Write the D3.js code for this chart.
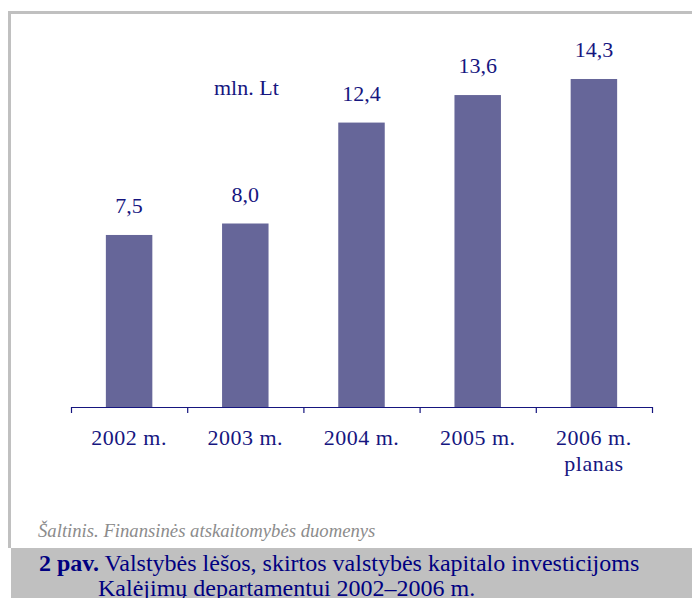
<!DOCTYPE html>
<html>
<head>
<meta charset="UTF-8">
<title>Valstybės lėšos kapitalo investicijoms</title>
<script src="https://d3js.org/d3.v7.min.js"></script>
<style>
    body {
        margin: 0;
        background: #ffffff;
        overflow: hidden;
    }
    svg {
        display: block;
    }
</style>
</head>
<body>
<svg width="692" height="598"></svg>
<script>
    // data
    const years = ["2002 m.", "2003 m.", "2004 m.", "2005 m.", "2006 m."];
    const subLabels = ["", "", "", "", "planas"];
    const values = [7.5, 8.0, 12.4, 13.6, 14.3];
    const valueLabels = ["7,5", "8,0", "12,4", "13,6", "14,3"];
    const unitLabel = "mln. Lt";
    const sourceText = "Šaltinis. Finansinės atskaitomybės duomenys";
    const captionBold = "2 pav.";
    const captionLine1 = " Valstybės lėšos, skirtos valstybės kapitalo investicijoms";
    const captionLine2 = "Kalėjimų departamentui 2002–2006 m.";

    const serif = "'Liberation Serif', 'Times New Roman', serif";
    const navy = "#16167f";
    const barColor = "#666699";
    const frameColor = "#c0c0c0";

    const svg = d3.select("svg");

    // frame around the figure
    svg.append("rect")
        .attr("x", 8).attr("y", 11)
        .attr("width", 700).attr("height", 3)
        .attr("fill", frameColor);
    svg.append("rect")
        .attr("x", 8).attr("y", 11)
        .attr("width", 3).attr("height", 537)
        .attr("fill", frameColor);

    // caption band
    svg.append("rect")
        .attr("x", 11).attr("y", 548)
        .attr("width", 681).attr("height", 50)
        .attr("fill", frameColor);

    const x0 = 71, x1 = 652, baseY = 407;

    const x = d3.scaleBand()
        .domain(years)
        .range([x0, x1])
        .paddingInner(0.6)
        .paddingOuter(0.3);

    const y = d3.scaleLinear()
        .domain([0, 16])
        .range([baseY, 40]);

    // bars
    svg.append("g")
        .selectAll("rect")
        .data(years)
        .join("rect")
        .attr("x", d => x(d))
        .attr("y", (d, i) => y(values[i]))
        .attr("width", x.bandwidth())
        .attr("height", (d, i) => baseY - y(values[i]))
        .attr("fill", barColor);

    // value labels
    svg.append("g")
        .selectAll("text")
        .data(years)
        .join("text")
        .attr("x", d => x(d) + x.bandwidth() / 2)
        .attr("y", (d, i) => y(values[i]) - 22)
        .attr("text-anchor", "middle")
        .style("font-family", serif)
        .style("font-size", "22px")
        .attr("fill", navy)
        .text((d, i) => valueLabels[i]);

    // axis with ticks on the category boundaries
    const edge = d3.scaleLinear().domain([0, years.length]).range([x0, x1]);
    const axis = svg.append("g")
        .attr("transform", `translate(0,${baseY})`)
        .call(d3.axisBottom(edge)
            .tickValues(d3.range(years.length + 1))
            .tickFormat("")
            .tickSize(6)
            .tickSizeOuter(0));
    axis.select(".domain").attr("stroke", navy).attr("stroke-width", 1.2);
    axis.selectAll(".tick line").attr("stroke", navy).attr("stroke-width", 1.2);

    // category labels
    const cat = svg.append("g")
        .selectAll("text")
        .data(years)
        .join("text")
        .attr("x", d => x(d) + x.bandwidth() / 2)
        .attr("y", 445)
        .attr("text-anchor", "middle")
        .style("font-family", serif)
        .style("font-size", "22px")
        .style("letter-spacing", "0.5px")
        .attr("fill", navy);
    cat.append("tspan").text(d => d);
    cat.append("tspan")
        .attr("x", d => x(d) + x.bandwidth() / 2)
        .attr("dy", 26)
        .text((d, i) => subLabels[i]);

    // unit
    svg.append("text")
        .attr("x", 214).attr("y", 95)
        .style("font-family", serif)
        .style("font-size", "22px")
        .attr("fill", navy)
        .text(unitLabel);

    // source
    svg.append("text")
        .attr("x", 38).attr("y", 537)
        .style("font-family", serif)
        .style("font-size", "18.7px")
        .style("font-style", "italic")
        .attr("fill", "#8c8c8c")
        .text(sourceText);

    // caption
    const cap = svg.append("text")
        .attr("x", 39).attr("y", 571)
        .style("font-family", serif)
        .style("font-size", "24px")
        .attr("fill", "#000080");
    cap.append("tspan").style("font-weight", "bold").text(captionBold);
    cap.append("tspan").text(captionLine1);
    svg.append("text")
        .attr("x", 98).attr("y", 596)
        .style("font-family", serif)
        .style("font-size", "24px")
        .attr("fill", "#000080")
        .text(captionLine2);
</script>
</body>
</html>
